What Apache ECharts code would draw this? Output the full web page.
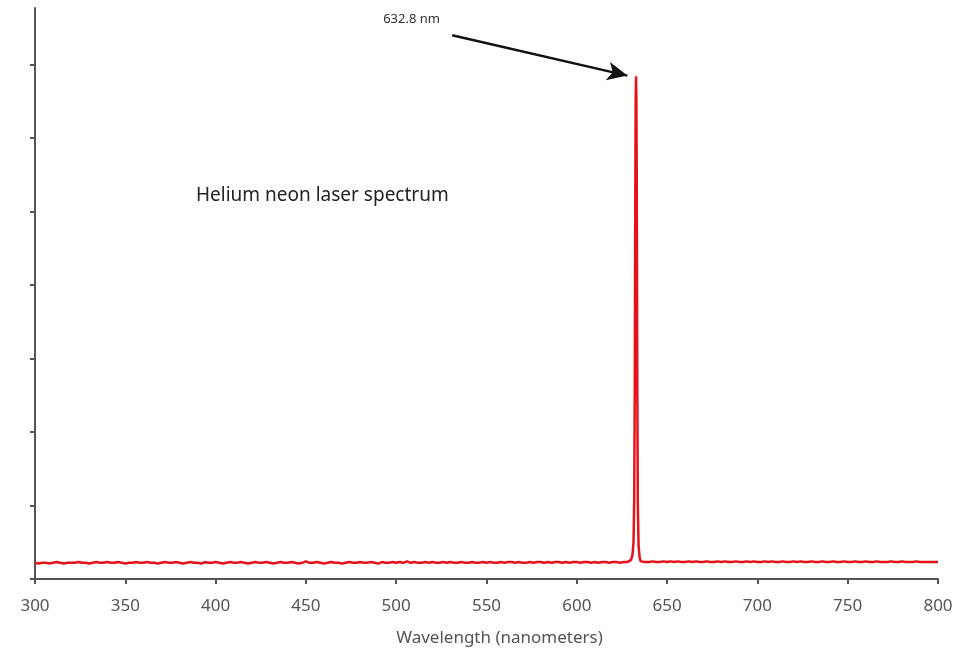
<!DOCTYPE html>
<html>
<head>
<meta charset="utf-8">
<script src="https://cdn.jsdelivr.net/npm/echarts@6/dist/echarts.min.js"></script>
<style>
html,body{margin:0;padding:0;background:#fff;}
#chart{width:970px;height:652px;}
</style>
</head>
<body>
<div id="chart"></div>
<script>
// Spectrometer reading of a He-Ne laser (relative intensity, arbitrary units)

// Baseline below the line, sampled every 2 nm from 300 nm
const blueSideStart = 300;
const blueSideStep = 2;
const blueSide = [
  0.22,0.21,0.22,0.22,0.21,0.22,0.23,0.22,0.21,0.22,
  0.22,0.22,0.23,0.22,0.22,0.21,0.22,0.23,0.22,0.22,
  0.23,0.22,0.22,0.23,0.22,0.21,0.22,0.22,0.23,0.22,
  0.22,0.23,0.22,0.22,0.21,0.22,0.23,0.22,0.22,0.23,
  0.22,0.21,0.22,0.23,0.22,0.22,0.21,0.23,0.22,0.22,
  0.23,0.22,0.21,0.22,0.23,0.22,0.22,0.23,0.22,0.21,
  0.22,0.23,0.22,0.22,0.23,0.22,0.21,0.22,0.23,0.22,
  0.22,0.23,0.22,0.21,0.22,0.24,0.22,0.22,0.23,0.22,
  0.21,0.22,0.23,0.22,0.22,0.21,0.22,0.23,0.22,0.22,
  0.23,0.22,0.22,0.23,0.22,0.21,0.23,0.22,0.22,0.23,
  0.22,0.23,0.22,0.24,0.22,0.23,0.22,0.22,0.23,0.22,
  0.23,0.22,0.22,0.23,0.22,0.23,0.22,0.22,0.23,0.22,
  0.22,0.23,0.22,0.22,0.23,0.22,0.23,0.22,0.22,0.23,
  0.22,0.23,0.23,0.22,0.23,0.22,0.22,0.23,0.22,0.23,
  0.23,0.22,0.23,0.22,0.23,0.23,0.22,0.23,0.22,0.23,
  0.23,0.22,0.23,0.23,0.22,0.23,0.22,0.23,0.23,0.22,
  0.23,0.23,0.22,0.23,0.23
];

// The 632.8 nm emission line, sampled finely
const peakWavelengths = [629.0,630.0,630.8,631.4,631.8,632.1,632.4,632.6,632.8,633.0,633.2,633.5,633.8,634.2,634.8,635.4];
const peakIntensity   = [0.24, 0.26, 0.32, 0.5,  1.1,  2.6,  5.3,  6.5,  6.84, 6.5,  5.4,  2.6,  1.0,  0.45, 0.29, 0.24];

// Baseline above the line, sampled every 2 nm from 636 nm
const redSideStart = 636;
const redSideStep = 2;
const redSide = [
  0.24,0.23,0.23,0.24,0.23,0.23,0.24,0.23,0.24,0.23,
  0.24,0.23,0.23,0.24,0.23,0.24,0.23,0.23,0.24,0.23,
  0.23,0.24,0.23,0.24,0.23,0.23,0.24,0.23,0.23,0.24,
  0.23,0.24,0.23,0.23,0.24,0.23,0.24,0.23,0.23,0.24,
  0.23,0.23,0.24,0.23,0.24,0.23,0.23,0.24,0.23,0.23,
  0.24,0.23,0.23,0.24,0.23,0.23,0.24,0.23,0.23,0.24,
  0.23,0.23,0.24,0.23,0.23,0.24,0.23,0.23,0.23,0.24,
  0.23,0.23,0.24,0.23,0.23,0.23,0.24,0.23,0.23,0.23,
  0.23,0.23,0.23
];

const xTicks = [300,350,400,450,500,550,600,650,700,750,800];
const yTicks = [0,1,2,3,4,5,6,7];

const spectrum = [];
blueSide.forEach((v, i) => spectrum.push([blueSideStart + i * blueSideStep, v]));
peakWavelengths.forEach((w, i) => spectrum.push([w, peakIntensity[i]]));
redSide.forEach((v, i) => spectrum.push([redSideStart + i * redSideStep, v]));

const font = '"Noto Sans", "Open Sans", sans-serif';
const axisColor = '#555';

const chart = echarts.init(document.getElementById('chart'));
chart.setOption({
  animation: false,
  backgroundColor: '#fff',
  title: {
    text: 'Helium neon laser spectrum',
    left: 191,
    top: 181,
    textStyle: { fontFamily: font, fontSize: 19, fontWeight: 'normal', color: '#222' }
  },
  grid: { left: 35, right: 32, top: 8, bottom: 73 },
  xAxis: {
    type: 'value',
    min: 300,
    max: 800,
    interval: 50,
    name: 'Wavelength (nanometers)',
    nameLocation: 'middle',
    nameGap: 51,
    nameTextStyle: { fontFamily: font, fontSize: 17, color: '#555', padding: [0, 0, 0, 26] },
    axisLine: { show: true, lineStyle: { color: axisColor, width: 2 } },
    axisTick: { show: true, length: 5, lineStyle: { color: axisColor, width: 2 }, customValues: xTicks },
    axisLabel: { fontFamily: font, fontSize: 17, color: '#555', margin: 19, customValues: xTicks },
    splitLine: { show: false }
  },
  yAxis: {
    type: 'value',
    min: 0,
    max: 7.77,
    interval: 1,
    axisLine: { show: true, lineStyle: { color: axisColor, width: 2 } },
    axisTick: { show: true, length: 5, lineStyle: { color: axisColor, width: 2 }, customValues: yTicks },
    axisLabel: { show: false },
    splitLine: { show: false }
  },
  series: [{
    type: 'line',
    data: spectrum,
    showSymbol: false,
    smooth: false,
    lineStyle: { color: '#e3121b', width: 2.5 },
    markLine: {
      silent: true,
      symbol: ['none', 'arrow'],
      symbolSize: [14, 20],
      label: { show: false },
      lineStyle: { color: '#111', width: 2.5, type: 'solid' },
      data: [[{ coord: [531, 7.40] }, { coord: [628, 6.85] }]]
    },
    markPoint: {
      silent: true,
      symbol: 'circle',
      symbolSize: 0,
      label: {
        show: true,
        position: 'inside',
        formatter: '632.8 nm',
        fontFamily: font,
        fontSize: 13,
        color: '#333'
      },
      data: [{ coord: [508.5, 7.61] }]
    }
  }]
});
</script>
</body>
</html>
